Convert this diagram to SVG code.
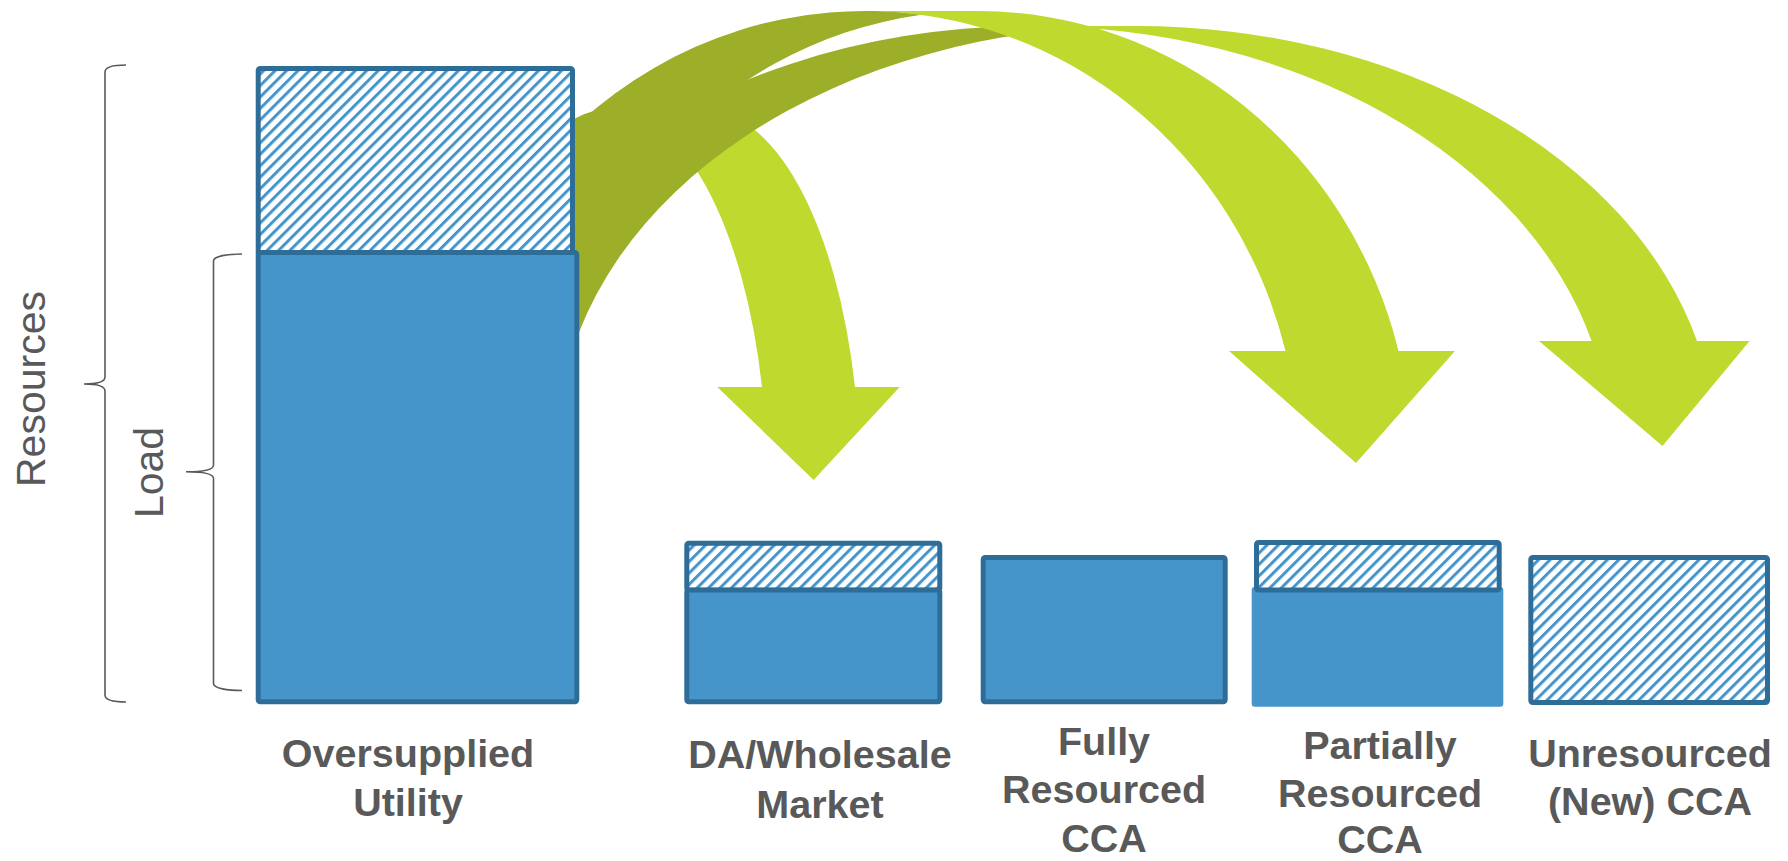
<svg xmlns="http://www.w3.org/2000/svg" width="1788" height="861" viewBox="0 0 1788 861">
  <defs>
    <!-- wide upward diagonal hatch used for surplus resources -->
    <pattern id="hatch" patternUnits="userSpaceOnUse" width="8.1" height="8.1" patternTransform="rotate(45)">
      <rect width="8.1" height="8.1" fill="#ffffff"/>
      <rect width="3" height="8.1" fill="#4595CB"/>
    </pattern>
    <style>
      .solid { fill: #4595CB; stroke: #2F6D99; stroke-width: 5; }
      .hatched { fill: url(#hatch); stroke: #2F6D99; stroke-width: 5; }
      .bare { fill: #4595CB; }
      .front { fill: #C0D92F; }
      .back { fill: #9DAE28; }
      .label { font-family: "Liberation Sans", Arial, sans-serif; font-weight: bold; font-size: 39.5px; fill: #595959; text-anchor: middle; }
      .axis { font-family: "Liberation Sans", Arial, sans-serif; font-size: 41px; fill: #595959; text-anchor: middle; }
      .brace { fill: none; stroke: #595959; stroke-width: 1.6; }
    </style>
  </defs>

  <rect width="1788" height="861" fill="#ffffff"/>

  <!-- curved flow arrows from the oversupplied utility -->
  <g id="connectors">
    <g id="arrow-da">
      <path class="front" d="M813.6,480 L717.3,387 L762,387 A157,371 0 0 0 610,109 L703,109 A157,371 0 0 1 855,387 L899.7,387 Z"/>
      <path class="back" d="M656.5,125.6 A157,371 0 0 0 546,480 L453,480 A157,371 0 0 1 656.5,125.6 Z"/>
    </g>
    <g id="arrow-unresourced">
      <path class="front" d="M1662.5,446 L1539,341 L1591.6,341 A579,420 0 0 0 1031,26 L1136.4,26 A579,420 0 0 1 1697,341 L1749.6,341 Z"/>
      <path class="back" d="M1083.7,27.7 A579,420 0 0 0 557.4,446 L452,446 A579,420 0 0 1 1083.7,27.7 Z"/>
    </g>
    <g id="arrow-partial">
      <path class="front" d="M1356,463 L1229,351 L1285.5,351 A434,452 0 0 0 865,11 L978,11 A434,452 0 0 1 1398.5,351 L1455,351 Z"/>
      <path class="back" d="M921.5,14.8 A434,452 0 0 0 544,463 L431,463 A434,452 0 0 1 921.5,14.8 Z"/>
    </g>
  </g>

  <!-- resources / load brackets -->
  <g id="axis-resources">
    <path class="brace" d="M126,65 C112,65 105,67 105,72 L105,377 C105,382 98,384 84,384 C98,384 105,386 105,391 L105,695 C105,700 112,702 126,702"/>
    <text class="axis" transform="translate(44.5,389) rotate(-90)">Resources</text>
  </g>
  <g id="axis-load">
    <path class="brace" d="M242,254 C228,254 213.5,256 213.5,261 L213.5,465 C213.5,469.5 206,471.8 186,471.8 C206,471.8 213.5,474.1 213.5,478.6 L213.5,683.5 C213.5,688.5 228,690.5 242,690.5"/>
    <text class="axis" transform="translate(163,472.5) rotate(-90)">Load</text>
  </g>

  <g id="node-oversupplied">
    <rect class="hatched" x="258.2" y="68.5" width="314.3" height="186" rx="2"/>
    <rect class="solid" x="258.2" y="252.5" width="318.6" height="449.3" rx="2"/>
    <text class="label" x="408" y="767">Oversupplied</text>
    <text class="label" x="408" y="815.5">Utility</text>
  </g>

  <g id="node-da">
    <rect class="hatched" x="686.8" y="543.2" width="253" height="47" rx="2"/>
    <rect class="solid" x="686.8" y="590" width="253" height="111.8" rx="2"/>
    <text class="label" x="820" y="768.3">DA/Wholesale</text>
    <text class="label" x="820" y="817.7">Market</text>
  </g>

  <g id="node-fully">
    <rect class="solid" x="983.2" y="557.5" width="242" height="144.3" rx="2"/>
    <text class="label" x="1104" y="755">Fully</text>
    <text class="label" x="1104" y="803.3">Resourced</text>
    <text class="label" x="1104" y="851.7">CCA</text>
  </g>

  <g id="node-partially">
    <rect class="bare" x="1251.7" y="587" width="251.6" height="119.7" rx="3"/>
    <rect class="hatched" x="1256.5" y="542.5" width="242.7" height="47.5" rx="2"/>
    <text class="label" x="1380" y="758.7">Partially</text>
    <text class="label" x="1380" y="806.5">Resourced</text>
    <text class="label" x="1380" y="852.5">CCA</text>
  </g>

  <g id="node-unresourced">
    <rect class="hatched" x="1530.8" y="557.5" width="236.7" height="145" rx="2"/>
    <text class="label" x="1650" y="766.7">Unresourced</text>
    <text class="label" x="1650" y="815">(New) CCA</text>
  </g>
</svg>
